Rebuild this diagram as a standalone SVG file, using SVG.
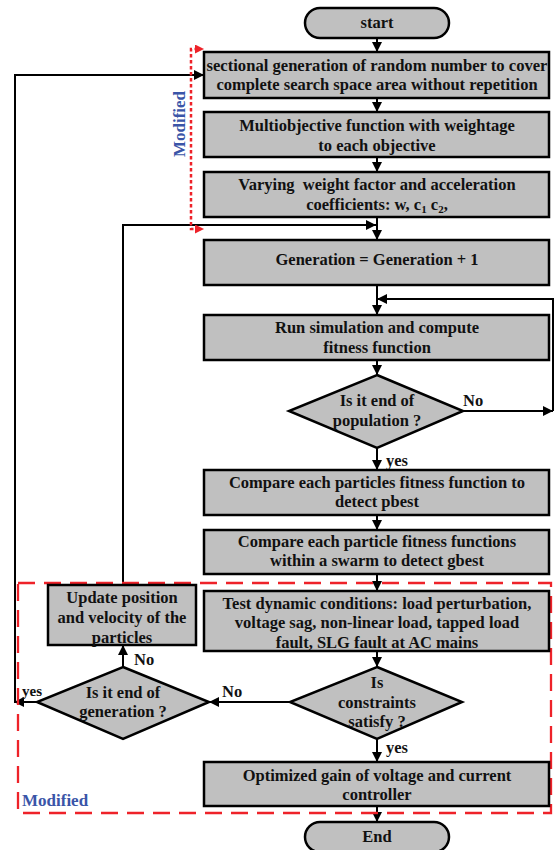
<svg xmlns="http://www.w3.org/2000/svg" width="555" height="850" viewBox="0 0 555 850">
<defs>
<marker id="ah" viewBox="0 0 10 10" refX="10" refY="5" markerWidth="10" markerHeight="10" markerUnits="userSpaceOnUse" orient="auto">
<path d="M0,0 L10,5 L0,10 z" fill="#000"/>
</marker>
<marker id="rh" viewBox="0 0 10 10" refX="10" refY="5" markerWidth="10" markerHeight="9" markerUnits="userSpaceOnUse" orient="auto">
<path d="M0,0 L10,5 L0,10 z" fill="#ee2229"/>
</marker>
</defs>
<style>
.box{fill:#c0c0c0;stroke:#000;stroke-width:2.5}
.t{font-family:"Liberation Serif","Times New Roman",serif;font-weight:bold;font-size:16.5px;fill:#111;text-anchor:middle}
.lbl{font-family:"Liberation Serif","Times New Roman",serif;font-weight:bold;font-size:16.5px;fill:#111}
.ln{fill:none;stroke:#000;stroke-width:2}
.mod{font-family:"Liberation Serif","Times New Roman",serif;font-weight:bold;font-size:17px;fill:#3a55a8}
</style>
<g id="connectors">
<line class="ln" x1="377" y1="38" x2="377" y2="52" marker-end="url(#ah)"/>
<line class="ln" x1="377" y1="98" x2="377" y2="112" marker-end="url(#ah)"/>
<line class="ln" x1="377" y1="157" x2="377" y2="172" marker-end="url(#ah)"/>
<line class="ln" x1="377" y1="217" x2="377" y2="240" marker-end="url(#ah)"/>
<line class="ln" x1="377" y1="285" x2="377" y2="315" marker-end="url(#ah)"/>
<line class="ln" x1="377" y1="360" x2="377" y2="375" marker-end="url(#ah)"/>
<line class="ln" x1="377" y1="448" x2="377" y2="470" marker-end="url(#ah)"/>
<line class="ln" x1="377" y1="515" x2="377" y2="530" marker-end="url(#ah)"/>
<line class="ln" x1="377" y1="574" x2="377" y2="591" marker-end="url(#ah)"/>
<line class="ln" x1="377" y1="651" x2="377" y2="667" marker-end="url(#ah)"/>
<line class="ln" x1="377" y1="739" x2="377" y2="762" marker-end="url(#ah)"/>
<line class="ln" x1="377" y1="806" x2="377" y2="822" marker-end="url(#ah)"/>
<line class="ln" x1="463" y1="411" x2="553" y2="411" marker-end="url(#ah)"/>
<polyline class="ln" points="553,411 553,299 377,299" marker-end="url(#ah)"/>
<line class="ln" x1="290" y1="702" x2="209" y2="702" marker-end="url(#ah)"/>
<line class="ln" x1="123" y1="667" x2="123" y2="645" marker-end="url(#ah)"/>
<line class="ln" x1="37" y1="702" x2="14" y2="702" marker-end="url(#ah)"/>
<polyline class="ln" points="15,702 15,75 204,75" marker-end="url(#ah)"/>
<polyline class="ln" points="123,585 123,225 376,225" marker-end="url(#ah)"/>
<polyline fill="none" stroke="#ee2229" stroke-width="2.5" stroke-dasharray="3.5,2.5" points="198,49 191,49 191,229 198,229"/>
<line x1="196" y1="49" x2="204" y2="49" stroke="#ee2229" stroke-width="0.1" marker-end="url(#rh)"/>
<line x1="196" y1="229" x2="204" y2="229" stroke="#ee2229" stroke-width="0.1" marker-end="url(#rh)"/>
<text class="lbl" x="463" y="406">No</text>
<text class="lbl" x="386" y="466">yes</text>
<text class="lbl" x="134" y="665">No</text>
<text class="lbl" x="222" y="697">No</text>
<text class="lbl" x="22" y="696" style="font-size:15px">yes</text>
<text class="lbl" x="386" y="753">yes</text>
</g>
<g id="modified-region">
<rect x="18" y="583" width="533" height="230" fill="none" stroke="#ee2229" stroke-width="2.3" stroke-dasharray="17,9"/>
<text class="mod" x="22" y="806">Modified</text>
<text class="mod" x="0" y="0" text-anchor="middle" transform="translate(185,124) rotate(-90)">Modified</text>
</g>
<g id="start">
<rect class="box" x="305" y="8" width="144" height="30" rx="15"/>
<text class="t" x="377" y="28">start</text>
</g>
<g id="n1">
<rect class="box" x="204" y="52" width="345" height="46"/>
<text class="t" x="377" y="71" textLength="341" lengthAdjust="spacingAndGlyphs">sectional generation of random number to cover</text>
<text class="t" x="377" y="90">complete search space area without repetition</text>
</g>
<g id="n2">
<rect class="box" x="204" y="112" width="345" height="45"/>
<text class="t" x="377" y="131">Multiobjective function with weightage</text>
<text class="t" x="377" y="151">to each objective</text>
</g>
<g id="n3">
<rect class="box" x="204" y="172" width="345" height="45"/>
<text class="t" x="377" y="190">Varying&#160; weight factor and acceleration</text>
<text class="t" x="377" y="210">coefficients: w, c<tspan font-size="11" dy="3">1</tspan><tspan dy="-3"> c</tspan><tspan font-size="11" dy="3">2</tspan><tspan dy="-3">,</tspan></text>
</g>
<g id="n4">
<rect class="box" x="204" y="240" width="345" height="45"/>
<text class="t" x="377" y="265">Generation = Generation + 1</text>
</g>
<g id="n5">
<rect class="box" x="204" y="315" width="345" height="45"/>
<text class="t" x="377" y="333">Run simulation and compute</text>
<text class="t" x="377" y="353">fitness function</text>
</g>
<g id="d1">
<polygon class="box" points="377,375 463,411 377,448 289,411"/>
<text class="t" x="377" y="406">Is it end of</text>
<text class="t" x="377" y="426">population ?</text>
</g>
<g id="n6">
<rect class="box" x="204" y="470" width="345" height="45"/>
<text class="t" x="377" y="488">Compare each particles fitness function to</text>
<text class="t" x="377" y="507">detect pbest</text>
</g>
<g id="n7">
<rect class="box" x="204" y="530" width="345" height="44"/>
<text class="t" x="377" y="547">Compare each particle fitness functions</text>
<text class="t" x="377" y="566">within a swarm to detect gbest</text>
</g>
<g id="n8">
<rect class="box" x="204" y="591" width="345" height="60"/>
<text class="t" x="377" y="609">Test dynamic conditions: load perturbation,</text>
<text class="t" x="377" y="628">voltage sag, non-linear load, tapped load</text>
<text class="t" x="377" y="648">fault, SLG fault at AC mains</text>
</g>
<g id="d2">
<polygon class="box" points="377,667 462,702 377,739 290,702"/>
<text class="t" x="377" y="688">Is</text>
<text class="t" x="377" y="708">constraints</text>
<text class="t" x="377" y="727">satisfy ?</text>
</g>
<g id="n9">
<rect class="box" x="48" y="585" width="148" height="60"/>
<text class="t" x="122" y="603">Update position</text>
<text class="t" x="122" y="623">and velocity of the</text>
<text class="t" x="122" y="643">particles</text>
</g>
<g id="d3">
<polygon class="box" points="123,667 209,702 123,739 37,702"/>
<text class="t" x="123" y="698">Is it end of</text>
<text class="t" x="123" y="717">generation ?</text>
</g>
<g id="n10">
<rect class="box" x="204" y="762" width="345" height="44"/>
<text class="t" x="377" y="781">Optimized gain of voltage and current</text>
<text class="t" x="377" y="800">controller</text>
</g>
<g id="end">
<rect class="box" x="305" y="822" width="144" height="30" rx="15"/>
<text class="t" x="377" y="842">End</text>
</g>
</svg>
